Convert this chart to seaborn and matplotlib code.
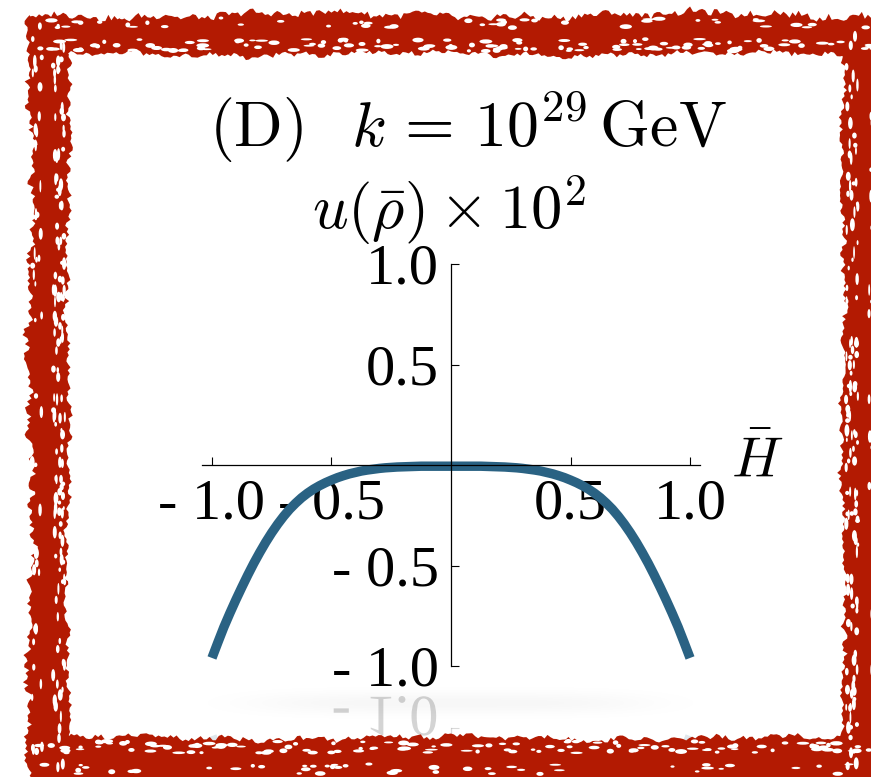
import numpy as np
import pandas as pd
import seaborn as sns
import matplotlib
matplotlib.use("Agg")
import matplotlib.pyplot as plt
from matplotlib.patches import PathPatch, Ellipse
from matplotlib.path import Path
from matplotlib.textpath import TextPath, TextToPath
from matplotlib.font_manager import FontProperties
from matplotlib.transforms import Affine2D, IdentityTransform
from matplotlib.ticker import MultipleLocator, FixedLocator, FixedFormatter

# ---- data: rescaled potential u(rho) x 10^2 versus H-bar ----
h_bar = np.linspace(-1.0, 1.0, 81)
u_scaled = [-0.960, -0.882, -0.806, -0.737, -0.671, -0.608, -0.547, -0.489,
            -0.435, -0.384, -0.337, -0.294, -0.255, -0.220, -0.190, -0.163,
            -0.140, -0.120, -0.103, -0.088, -0.075, -0.063, -0.053, -0.044,
            -0.037, -0.030, -0.025, -0.021, -0.017, -0.014, -0.012, -0.010,
            -0.009, -0.008, -0.007, -0.006, -0.006, -0.006, -0.006, -0.006,
            -0.006,
            -0.006, -0.006, -0.006, -0.006, -0.006, -0.007, -0.008, -0.009,
            -0.010, -0.012, -0.014, -0.017, -0.021, -0.025, -0.030, -0.037,
            -0.044, -0.053, -0.063, -0.075, -0.088, -0.103, -0.120, -0.140,
            -0.163, -0.190, -0.220, -0.255, -0.294, -0.337, -0.384, -0.435,
            -0.489, -0.547, -0.608, -0.671, -0.737, -0.806, -0.882, -0.960]
x_tick_values = [-1.0, -0.5, 0.5, 1.0]
x_tick_labels = ["- 1.0", "- 0.5", "0.5", "1.0"]
y_tick_values = [-1.0, -0.5, 0.5, 1.0]
y_tick_labels = ["- 1.0", "- 0.5", "0.5", "1.0"]
panel_tag = r"$\mathrm{(D)}$"
scale_text = r"$k\,=\,10^{29}\,\mathrm{GeV}$"
y_axis_title = r"$u(\bar{\rho})\times10^{2}$"
x_axis_label = r"$\bar{H}$"

df = pd.DataFrame({"H": h_bar, "u": u_scaled})

sns.set_theme(style="white")
plt.rcParams["font.family"] = ["Liberation Serif", "DejaVu Serif"]
plt.rcParams["mathtext.fontset"] = "cm"

W, H = 871, 777
fig = plt.figure(figsize=(W / 100, H / 100), dpi=100)
fig.patch.set_facecolor("white")


def fx(px):
    return px / W


def fy(py):
    return 1 - py / H


curve_color = "#2a6283"
curve_lw = 6.8

# ---- main axes, crossing at the origin ----
ax_l, ax_r, ax_t, ax_b = 202.4, 699.6, 264.0, 666.0
ax = fig.add_axes([fx(ax_l), fy(ax_b), (ax_r - ax_l) / W, (ax_b - ax_t) / H])
ax.set_facecolor("none")
sns.lineplot(data=df, x="H", y="u", ax=ax, color=curve_color, linewidth=curve_lw,
             solid_capstyle="butt", solid_joinstyle="round", clip_on=False, zorder=3)
ax.set_xlim(-1.04, 1.04)
ax.set_ylim(-1.0, 1.0)
ax.set_xlabel("")
ax.set_ylabel("")
for side in ("top", "right"):
    ax.spines[side].set_visible(False)
for side in ("left", "bottom"):
    ax.spines[side].set_position("zero")
    ax.spines[side].set_color("black")
    ax.spines[side].set_linewidth(0.9)
    ax.spines[side].set_zorder(4)

ax.xaxis.set_major_locator(FixedLocator(x_tick_values))
ax.xaxis.set_major_formatter(FixedFormatter(x_tick_labels))
ax.yaxis.set_major_locator(FixedLocator(y_tick_values))
ax.yaxis.set_major_formatter(FixedFormatter(y_tick_labels))
ax.xaxis.set_minor_locator(MultipleLocator(0.1))
ax.yaxis.set_minor_locator(MultipleLocator(0.1))
ax.tick_params(axis="both", which="both", direction="in", color="black",
               width=0.8, labelsize=42, labelcolor="black")
ax.tick_params(axis="both", which="major", length=6)
ax.tick_params(axis="both", which="minor", length=4)
ax.tick_params(axis="x", which="major", pad=10)
ax.tick_params(axis="y", which="major", pad=9)
ax.tick_params(left=True, bottom=True)

# ---- titles and axis label ----
fig.text(fx(209), fy(146), panel_tag, ha="left", va="baseline", fontsize=46, color="black")
fig.text(fx(727), fy(146), scale_text, ha="right", va="baseline", fontsize=46, color="black")
fig.text(fx(449), fy(229), y_axis_title, ha="center", va="baseline", fontsize=45, color="black")
fig.text(fx(731), fy(463), x_axis_label, ha="left", va="center", fontsize=41, color="black")

# ---- mirrored copy below the plot (floor reflection) ----
mirror_py = 697.0
pos = ax.get_position()
m = fy(mirror_py)
ax_ref = fig.add_axes([pos.x0, 2 * m - pos.y0 - pos.height, pos.width, pos.height], zorder=0)
ax_ref.set_facecolor("none")
sns.lineplot(data=df, x="H", y="u", ax=ax_ref, color=curve_color, linewidth=curve_lw,
             solid_capstyle="butt", clip_on=False, alpha=0.15)
ax_ref.set_xlim(-1.04, 1.04)
ax_ref.set_ylim(1.0, -1.0)
ax_ref.set_xlabel("")
ax_ref.set_ylabel("")
for side in ("top", "right", "bottom"):
    ax_ref.spines[side].set_visible(False)
ax_ref.spines["left"].set_position("zero")
ax_ref.spines["left"].set_color((0, 0, 0, 0.15))
ax_ref.spines["left"].set_linewidth(0.9)
ax_ref.yaxis.set_major_locator(FixedLocator(y_tick_values))
ax_ref.yaxis.set_minor_locator(MultipleLocator(0.1))
ax_ref.tick_params(axis="y", which="both", direction="in", color=(0, 0, 0, 0.15),
                   width=0.8, labelleft=False, left=True)
ax_ref.tick_params(axis="y", which="major", length=6)
ax_ref.tick_params(axis="y", which="minor", length=4)
ax_ref.set_xticks([])

# reflected "- 1.0" label
fig.canvas.draw()
renderer = fig.canvas.get_renderer()
low_label = None
for lbl in ax.yaxis.get_majorticklabels():
    if lbl.get_text() == y_tick_labels[0]:
        low_label = lbl
if low_label is not None:
    bb = low_label.get_window_extent(renderer)
    prop = FontProperties(family="Liberation Serif", size=42)
    _, _, desc = TextToPath().get_text_width_height_descent(y_tick_labels[0], prop, ismath=False)
    k = 100 / 72
    baseline = bb.y0 + desc * k
    mirror_disp = H - mirror_py
    refl_base = 2 * mirror_disp - baseline
    tp = TextPath((0, 0), y_tick_labels[0], prop=prop)
    tr = Affine2D().scale(k, -k).translate(bb.x0, refl_base)
    fig.patches.append(PathPatch(tr.transform_path(tp), facecolor=(0, 0, 0, 0.17),
                                 edgecolor="none", transform=IdentityTransform(),
                                 figure=fig, zorder=1))

# ---- decoration layer: soft floor shadow and brush-stroke frame ----
deco = fig.add_axes([0, 0, 1, 1], zorder=10)
deco.set_xlim(0, W)
deco.set_ylim(H, 0)
deco.axis("off")

gx = np.linspace(150, 750, 300)
gy = np.linspace(670, 735, 60)
GX, GY = np.meshgrid(gx, gy)
shade = np.exp(-((GX - 450) / 200) ** 4 - ((GY - 703) / 11) ** 2)
rgba = np.zeros(shade.shape + (4,))
rgba[..., 3] = 0.035 * shade
deco.imshow(rgba, extent=(150, 750, 735, 670), aspect="auto", zorder=1, interpolation="bilinear")


def hash01(n, seed):
    i = np.arange(n, dtype=float)
    v = np.sin(i * 12.9898 + seed * 78.233) * 43758.5453
    return v - np.floor(v)


def wobble(n, seed, amp):
    t = np.linspace(0, 1, n)
    base = (0.35 * np.sin(2 * np.pi * 2.3 * t + seed)
            + 0.25 * np.sin(2 * np.pi * 9.7 * t + 1.7 * seed)
            + 0.2 * np.sin(2 * np.pi * 31.3 * t + 0.6 * seed))
    jit = hash01(n, seed) - 0.5
    return amp * (base + 0.9 * jit)


red = "#b31a02"
out_l, out_t, out_r, out_b = 30, 15, 895, 800
in_l, in_t, in_r, in_b = 68, 54, 843, 738


def rough_loop(l, t, r, b, amp, seed, outward):
    sgn = 1 if outward else -1
    n_h = int((r - l) / 3)
    n_v = int((b - t) / 3)
    xs_top = np.linspace(l, r, n_h)
    top = np.column_stack([xs_top, t - sgn * wobble(n_h, seed, amp)])
    ys_right = np.linspace(t, b, n_v)
    right = np.column_stack([r + sgn * wobble(n_v, seed + 1, amp), ys_right])
    xs_bot = np.linspace(r, l, n_h)
    bot = np.column_stack([xs_bot, b + sgn * wobble(n_h, seed + 2, amp)])
    ys_left = np.linspace(b, t, n_v)
    left = np.column_stack([l - sgn * wobble(n_v, seed + 3, amp), ys_left])
    return np.vstack([top, right, bot, left])


outer = rough_loop(out_l, out_t, out_r, out_b, 7, 3, True)
inner = rough_loop(in_l, in_t, in_r, in_b, 5, 11, False)[::-1]
verts = np.vstack([outer, outer[:1], inner, inner[:1]])
codes = ([Path.MOVETO] + [Path.LINETO] * (len(outer) - 1) + [Path.CLOSEPOLY]
         + [Path.MOVETO] + [Path.LINETO] * (len(inner) - 1) + [Path.CLOSEPOLY])
deco.add_patch(PathPatch(Path(verts, codes), facecolor=red, edgecolor="none", zorder=5))

# white brush gaps: a dense row near the inner edge, a sparser one near the outer edge
sides = [("top", in_l - 30, in_r + 30, in_t, -1), ("bottom", in_l - 30, in_r + 30, in_b, 1),
         ("left", in_t - 30, in_b + 30, in_l, -1), ("right", in_t - 30, in_b + 30, in_r, 1)]
for si, (name, a0, a1, edge, direction) in enumerate(sides):
    for row, (n, dmin, dspan, seed0) in enumerate([(120, 3, 12, 40), (45, 26, 10, 140)]):
        s = a0 + (a1 - a0) * hash01(n, seed0 + si)
        depth = dmin + dspan * hash01(n, seed0 + 20 + si)
        along = 4 + 9 * hash01(n, seed0 + 40 + si)
        across = 1.8 + 3.2 * hash01(n, seed0 + 60 + si)
        for j in range(n):
            if name in ("top", "bottom"):
                cx, cy = s[j], edge + direction * depth[j]
                wdt, hgt = along[j], across[j]
            else:
                cx, cy = edge + direction * depth[j], s[j]
                wdt, hgt = across[j], along[j]
            deco.add_patch(Ellipse((cx, cy), wdt, hgt, facecolor="white",
                                   edgecolor="none", zorder=6))

fig.savefig("out.png", dpi=100, facecolor="white")
